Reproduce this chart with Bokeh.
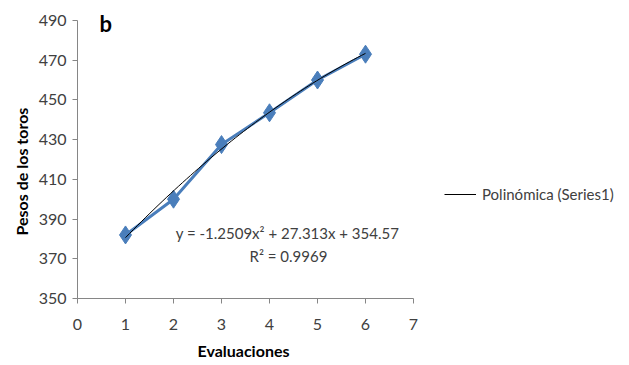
from bokeh.plotting import figure
from bokeh.models import Range1d, Label, Legend, LegendItem, FixedTicker, Title
from bokeh.embed import file_html
from bokeh.resources import INLINE
import numpy as np

evaluaciones = [1, 2, 3, 4, 5, 6]
pesos = [382, 400, 427.5, 443.5, 460, 473]
poly_coef = [-1.2509, 27.313, 354.57]
x_ticks = [0, 1, 2, 3, 4, 5, 6, 7]
y_ticks = [350, 370, 390, 410, 430, 450, 470, 490]

FONT = "Lato"
TXT = "#404040"

p = figure(frame_width=544, frame_height=288, output_backend="svg", toolbar_location=None,
           x_range=Range1d(0, 544 / 48), y_range=Range1d(350, 495),
           min_border_left=77, min_border_right=2, min_border_top=10, min_border_bottom=20)
p.outline_line_color = None
p.xgrid.visible = False
p.ygrid.visible = False

for ax in (p.xaxis, p.yaxis):
    ax.axis_line_color = "#868686"
    ax.major_tick_line_color = "#868686"
    ax.minor_tick_line_color = None
    ax.major_tick_in = 0
    ax.major_tick_out = 5
    ax.major_label_text_font = FONT
    ax.major_label_text_font_size = "16px"
    ax.major_label_text_color = TXT
p.xaxis.ticker = FixedTicker(ticks=x_ticks)
p.yaxis.ticker = FixedTicker(ticks=y_ticks)
p.xaxis.bounds = (0, 7)
p.yaxis.bounds = (350, 490)
p.xaxis.major_label_standoff = 15
p.yaxis.major_label_standoff = 6

p.add_layout(Title(text="Evaluaciones", align="left", offset=120, standoff=12,
                   text_font=FONT, text_font_style="bold", text_font_size="16px",
                   text_color="#000000"), "below")
p.add_layout(Title(text="Pesos de los toros", align="left", offset=63, standoff=10,
                   text_font=FONT, text_font_style="bold", text_font_size="16px",
                   text_color="#000000"), "left")

p.line(evaluaciones, pesos, line_color="#4A7EBB", line_width=3)
p.scatter(evaluaciones, pesos, marker="diamond", size=18, fill_color="#4A7EBB", line_color="#4A7EBB")

xs = np.linspace(min(evaluaciones), max(evaluaciones), 60)
ys = np.polyval(poly_coef, xs)
trend = p.line(xs, ys, line_color="#000000", line_width=1)

legend = Legend(items=[LegendItem(label="Polinómica (Series1)", renderers=[trend])],
                location=(367, 94), border_line_color=None, background_fill_alpha=0,
                label_text_font=FONT, label_text_font_size="15px", label_text_color=TXT,
                glyph_width=32, label_standoff=6, padding=0, margin=0)
p.add_layout(legend, "center")

p.add_layout(Label(x=22, y=275, x_units="screen", y_units="screen", text="b",
                   text_font=FONT, text_font_style="bold", text_font_size="22px",
                   text_color="#000000", text_baseline="alphabetic"))
p.add_layout(Label(x=210, y=66, x_units="screen", y_units="screen",
                   text="y = -1.2509x² + 27.313x + 354.57", text_align="center",
                   text_font=FONT, text_font_size="15px", text_color=TXT,
                   text_baseline="alphabetic"))
p.add_layout(Label(x=211, y=43, x_units="screen", y_units="screen",
                   text="R² = 0.9969", text_align="center",
                   text_font=FONT, text_font_size="15px", text_color=TXT,
                   text_baseline="alphabetic"))

open("out.html", "w").write(file_html(p, INLINE))
